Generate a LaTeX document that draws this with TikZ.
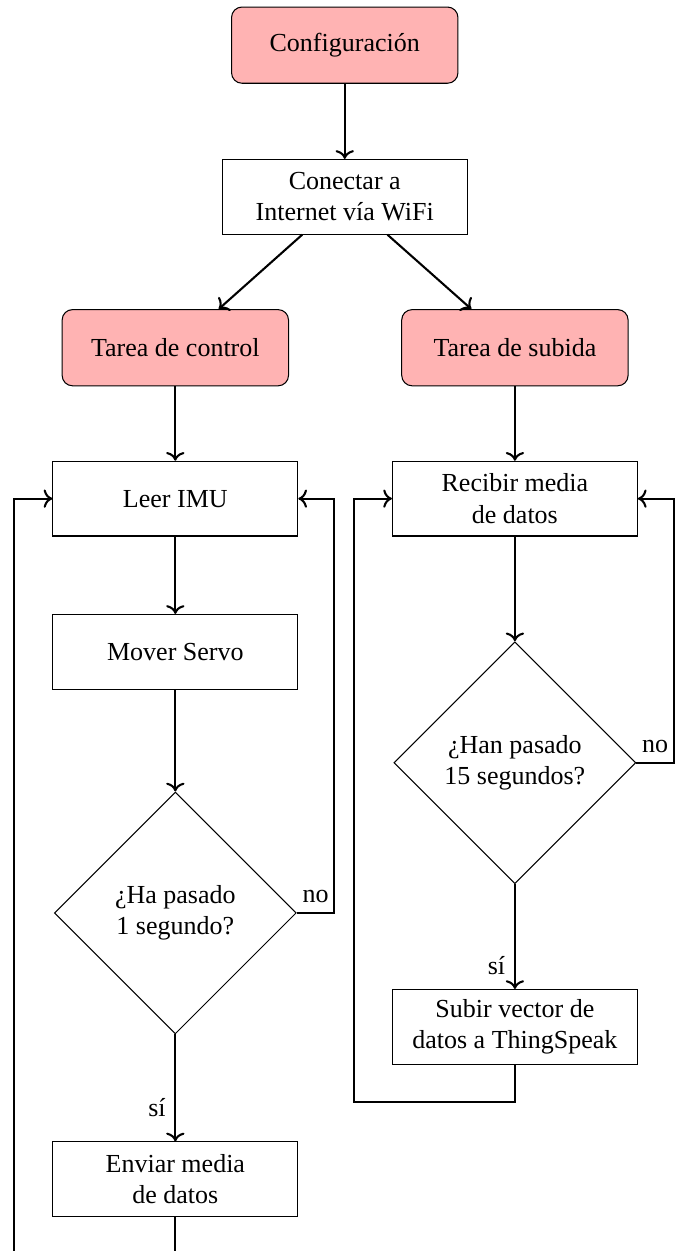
\documentclass[tikz,border=0pt]{standalone}
\usepackage{fontspec}
\setmainfont{Liberation Serif}
\usepackage{xcolor}
\usetikzlibrary{arrows.meta,positioning,calc,shapes.geometric}
\definecolor{Tarea}{HTML}{FFB3B3}
\tikzset{
  caja/.style={draw, thin, fill=white, align=center, minimum width=3.31cm, minimum height=1.01cm},
  tarea/.style={draw, thin, fill=Tarea, rounded corners, align=center, minimum width=3.06cm, minimum height=1.03cm},
  decision/.style={draw, thin, diamond, align=center, inner sep=0pt, minimum width=3.27cm, minimum height=3.27cm},
  flecha/.style={thick, ->},
  linea/.style={thick}
}

\begin{document}
\begin{tikzpicture}
        \useasboundingbox (0,0) rectangle (9.18,-16.91);
        % arranque
        \node[tarea] (config) at (4.66,-0.61) {Configuración};
        \node[caja] (wifi) at (4.66,-2.66) {Conectar a\\Internet vía WiFi};
        \node[tarea] (control) at (2.37,-4.70) {Tarea de control};
        \node[tarea] (subida) at (6.96,-4.70) {Tarea de subida};
        % tarea de control
        \node[caja] (leer) at (2.37,-6.74) {Leer IMU};
        \node[caja] (mover) at (2.37,-8.81) {Mover Servo};
        \node[decision] (segundo) at (2.37,-12.34) {¿Ha pasado\\1 segundo?};
        \node[caja] (enviar) at (2.37,-15.94) {Enviar media\\de datos};
        % tarea de subida
        \node[caja] (recibir) at (6.96,-6.74) {Recibir media\\de datos};
        \node[decision] (quince) at (6.96,-10.31) {¿Han pasado\\15 segundos?};
        \node[caja] (subir) at (6.96,-13.88) {Subir vector de\\datos a ThingSpeak};
        % puntos de vuelta
        \coordinate (vueltaA) at (0.19,-17.40);
        \coordinate (vueltaB) at (4.52,0);
        \coordinate (vueltaC) at (4.79,-14.90);
        \coordinate (vueltaD) at (9.11,0);

        \draw[flecha] (config) -- (wifi);
        \draw[flecha] (wifi) -- (control);
        \draw[flecha] (wifi) -- (subida);
        \draw[flecha] (control) -- (leer);
        \draw[flecha] (subida) -- (recibir);
        \draw[flecha] (leer) -- (mover);
        \draw[flecha] (mover) -- (segundo);
        \draw[flecha] (segundo) -- node[left, pos=0.68] {sí} (enviar);
        \draw[flecha] (segundo.east) -- node[above] {no} (segundo.east -| vueltaB) |- (leer);
        \draw[flecha] (enviar) -- (enviar |- vueltaA) -- (vueltaA) |- (leer);
        \draw[flecha] (recibir) -- (quince);
        \draw[flecha] (quince) -- node[left, pos=0.78] {sí} (subir);
        \draw[flecha] (quince.east) -- node[above] {no} (quince.east -| vueltaD) |- (recibir);
        \draw[flecha] (subir) -- (subir |- vueltaC) -- (vueltaC) |- (recibir);
      \end{tikzpicture}
\end{document}
